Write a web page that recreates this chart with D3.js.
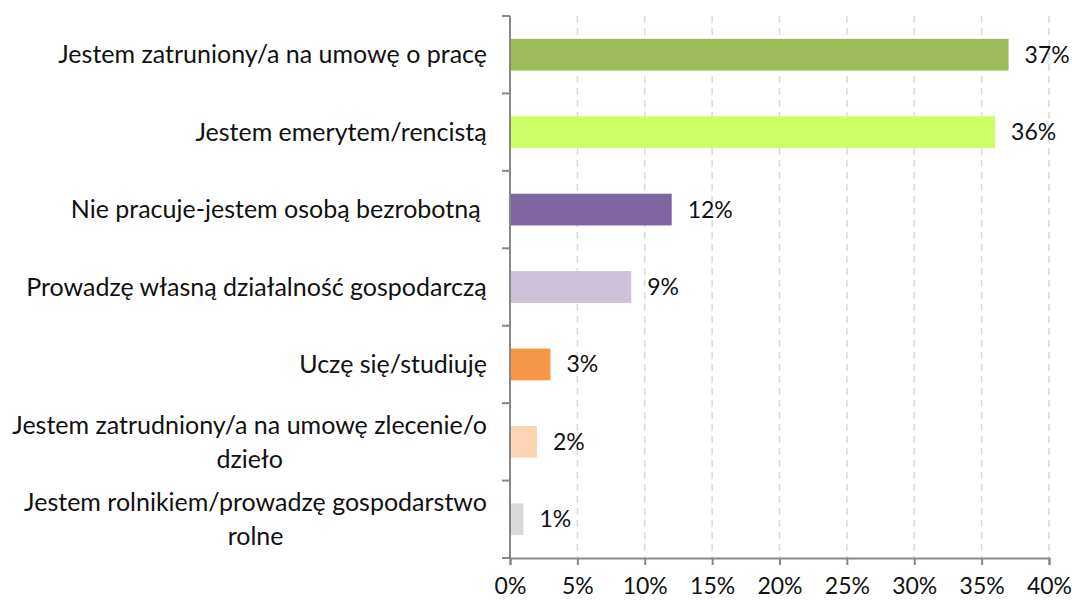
<!DOCTYPE html>
<html lang="pl">
    <head>
        <meta charset="utf-8">
        <title>Status zawodowy</title>
        <script src="https://d3js.org/d3.v7.min.js"></script>
        <style>
            body { margin: 0; background: #fff; }
            text { font-family: Lato, "Open Sans", sans-serif; fill: #111; }
        </style>
    </head>
    <body>
        <div id="dataviz"></div>
        <script>
            // category labels, already split into the lines the original wraps them into
            var categories = [
                ["Jestem zatruniony/a na umowę o pracę"],
                ["Jestem emerytem/rencistą"],
                ["Nie pracuje-jestem osobą bezrobotną "],
                ["Prowadzę własną działalność gospodarczą"],
                ["Uczę się/studiuję"],
                ["Jestem zatrudniony/a na umowę zlecenie/o", "dzieło"],
                ["Jestem rolnikiem/prowadzę gospodarstwo", "rolne"]
            ];
            var values = [37, 36, 12, 9, 3, 2, 1];
            var colors = ["#9bbb59", "#ccff66", "#8064a2", "#ccc1da", "#f79646", "#fcd5b5", "#d9d9d9"];
            var xTicks = [0, 5, 10, 15, 20, 25, 30, 35, 40];

            var margin = {top: 16, right: 23, bottom: 42, left: 510},
                width = 1072 - margin.left - margin.right,
                height = 600 - margin.top - margin.bottom;

            var svg = d3.select("#dataviz")
                        .append("svg")
                        .attr("width", 1072)
                        .attr("height", 600)
                        .append("g")
                        .attr("transform", "translate(" + margin.left + "," + margin.top + ")");

            var x = d3.scaleLinear().domain([0, 40]).range([0, width]);
            var y = d3.scaleBand()
                      .domain(d3.range(categories.length))
                      .range([0, height])
                      .paddingInner(0.59)
                      .paddingOuter(0.295);
            var step = height / categories.length;

            // dashed gridlines
            svg.selectAll("line.grid")
                .data(xTicks.slice(1)).enter()
                .append("line")
                .attr("class", "grid")
                .attr("x1", d => x(d)).attr("x2", d => x(d))
                .attr("y1", 0).attr("y2", height)
                .style("stroke", "#d9d9d9")
                .style("stroke-width", 1.5)
                .style("stroke-dasharray", "7,5");

            svg.selectAll("rect.bar")
                .data(values).enter()
                .append("rect")
                .attr("class", "bar")
                .attr("x", 0)
                .attr("y", (d, i) => y(i))
                .attr("width", d => x(d))
                .attr("height", y.bandwidth())
                .style("fill", (d, i) => colors[i]);

            // value labels
            svg.selectAll("text.val")
                .data(values).enter()
                .append("text")
                .attr("class", "val")
                .attr("x", d => x(d) + 16)
                .attr("y", (d, i) => y(i) + y.bandwidth() / 2)
                .attr("dy", "0.35em")
                .style("font-size", "23px")
                .text(d => d + "%");

            // x axis
            var xAxis = svg.append("g")
                .attr("transform", "translate(0," + height + ")")
                .call(d3.axisBottom(x).tickValues(xTicks).tickSize(7).tickPadding(13).tickFormat(d => d + "%"));
            xAxis.select(".domain").style("stroke", "#888").style("stroke-width", 2);
            xAxis.selectAll(".tick line").style("stroke", "#888").style("stroke-width", 2);
            xAxis.selectAll("text").style("font-size", "23px").style("fill", "#111");

            // y axis: plain line with ticks between categories
            svg.append("line")
                .attr("x1", 0).attr("x2", 0).attr("y1", 0).attr("y2", height)
                .style("stroke", "#888").style("stroke-width", 2);
            svg.selectAll("line.ytick")
                .data(d3.range(categories.length + 1)).enter()
                .append("line")
                .attr("class", "ytick")
                .attr("x1", -8).attr("x2", 0)
                .attr("y1", d => d * step).attr("y2", d => d * step)
                .style("stroke", "#888").style("stroke-width", 2);

            // category labels: block right aligned, lines centred within the block
            var lineH = 34;
            var labels = svg.selectAll("g.cat")
                .data(categories).enter()
                .append("g")
                .attr("class", "cat");
            labels.each(function(lines, i) {
                var g = d3.select(this);
                var t = g.append("text")
                    .style("font-size", "25px")
                    .style("white-space", "pre")
                    .attr("text-anchor", "middle");
                var cy = y(i) + y.bandwidth() / 2;
                lines.forEach(function(l, j) {
                    t.append("tspan")
                        .attr("x", 0)
                        .attr("y", cy + (j - (lines.length - 1) / 2) * lineH)
                        .attr("dy", "0.35em")
                        .text(l);
                });
                var w = t.node().getBBox().width;
                t.attr("transform", "translate(" + (-23 - w / 2) + ",0)");
            });
        </script>
    </body>
</html>
